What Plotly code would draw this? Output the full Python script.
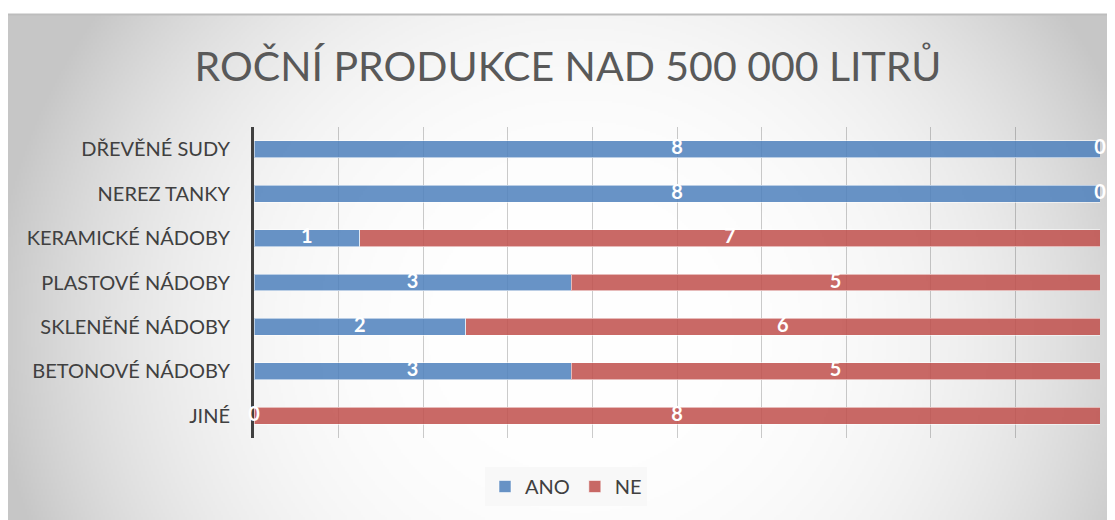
import base64
import struct
import zlib

import numpy as np
import plotly.graph_objects as go

# ---------------- data ----------------
categories = ["DŘEVĚNÉ SUDY", "NEREZ TANKY", "KERAMICKÉ NÁDOBY", "PLASTOVÉ NÁDOBY",
              "SKLENĚNÉ NÁDOBY", "BETONOVÉ NÁDOBY", "JINÉ"]
ano = [8, 8, 1, 3, 2, 3, 0]
ne = [0, 0, 7, 5, 6, 5, 8]
series_names = ["ANO", "NE"]
title_text = "ROČNÍ PRODUKCE NAD 500 000 LITRŮ"

# ---------------- layout geometry (page has an 8px body margin) ----------------
OFF = 8
W, H = 1115 - OFF, 520 - OFF
ML, MR, MT, MB = 254 - OFF, 15, 127 - OFF, 82
PW = W - ML - MR
PH = H - MT - MB


def px_to_paper_x(px):
    return (px - OFF - ML) / PW


def px_to_paper_y(py):
    return (H - MB - (py - OFF)) / PH


# ---------------- radial gradient background (PNG data URI) ----------------
def gradient_png(w, h):
    scale = 2.0
    xs = (np.arange(w) + 0.5) * scale + 8
    ys = (np.arange(h) + 0.5) * scale + 14
    X, Y = np.meshgrid(xs, ys)
    cx, cy, rx, ry = 580.0, 330.0, 590.0, 560.0
    d = np.sqrt(((X - cx) / rx) ** 2 + ((Y - cy) / ry) ** 2)
    d = np.clip(d, 0, 1)
    v = 255 - 57 * d ** 3
    img = np.clip(v, 0, 255).astype(np.uint8)
    raw = b"".join(b"\x00" + img[r].tobytes() for r in range(h))

    def chunk(tag, data):
        c = struct.pack(">I", len(data)) + tag + data
        return c + struct.pack(">I", zlib.crc32(tag + data) & 0xFFFFFFFF)

    png = b"\x89PNG\r\n\x1a\n"
    png += chunk(b"IHDR", struct.pack(">IIBBBBB", w, h, 8, 0, 0, 0, 0))
    png += chunk(b"IDAT", zlib.compress(raw, 9))
    png += chunk(b"IEND", b"")
    return "data:image/png;base64," + base64.b64encode(png).decode()


bg_src = gradient_png((1115 - 8) // 2, (520 - 14) // 2)

# ---------------- figure ----------------
blue = "rgba(79,129,189,0.86)"
red = "rgba(192,80,77,0.86)"

fig = go.Figure()
fig.add_trace(go.Bar(
    y=categories, x=ano, name=series_names[0], orientation="h",
    marker=dict(color=blue, line=dict(color="rgba(255,255,255,0.55)", width=1)),
    hoverinfo="skip",
))
fig.add_trace(go.Bar(
    y=categories, x=ne, name=series_names[1], orientation="h",
    marker=dict(color=red, line=dict(color="rgba(255,255,255,0.55)", width=1)),
    hoverinfo="skip",
))

# labels centred in each segment (percent scale)
totals = [a + n for a, n in zip(ano, ne)]
ano_pos = [a / t * 100 / 2 for a, t in zip(ano, totals)]
ne_pos = [(a + n / 2) / t * 100 for a, n, t in zip(ano, ne, totals)]
label_font = dict(family="Lato", size=20, color="white", weight="bold")
fig.add_trace(go.Scatter(
    x=ano_pos, y=categories, mode="text", text=[str(v) for v in ano],
    textfont=label_font, textposition="middle center", showlegend=False,
    cliponaxis=False, hoverinfo="skip",
))
fig.add_trace(go.Scatter(
    x=ne_pos, y=categories, mode="text", text=[str(v) for v in ne],
    textfont=label_font, textposition="middle center", showlegend=False,
    cliponaxis=False, hoverinfo="skip",
))

fig.update_layout(
    width=W, height=H,
    margin=dict(l=ML, r=MR, t=MT, b=MB, pad=0),
    barmode="stack", barnorm="percent", bargap=0.62,
    paper_bgcolor="white", plot_bgcolor="rgba(0,0,0,0)",
    font=dict(family="Lato", color="#404040"),
    title=dict(
        text=title_text, x=(568 - OFF) / W, xref="container", xanchor="center",
        y=1 - (67 - OFF) / H, yref="container", yanchor="middle",
        font=dict(family="Lato", size=41, color="#595959", weight=400),
    ),
    xaxis=dict(
        range=[0, 100], dtick=10, showticklabels=False, showgrid=True,
        gridcolor="rgba(0,0,0,0.2)", gridwidth=1, zeroline=False,
        showline=False, ticks="", fixedrange=True,
    ),
    yaxis=dict(
        categoryorder="array", categoryarray=categories, autorange="reversed",
        showline=True, linecolor="#404040", linewidth=3, showgrid=False,
        layer="below traces",
        ticks="", ticklabelstandoff=17, tickfont=dict(size=20, color="#404040"),
        zeroline=False, fixedrange=True,
    ),
    legend=dict(
        orientation="h", x=px_to_paper_x(566), xanchor="center",
        y=px_to_paper_y(467), yanchor="top",
        bgcolor="#f8f8f8", font=dict(size=20, color="#404040"),
        traceorder="normal", itemwidth=30,
    ),
    images=[dict(
        source=bg_src, xref="paper", yref="paper",
        x=px_to_paper_x(8), y=px_to_paper_y(14),
        sizex=(1115 - 8) / PW, sizey=(520 - 14) / PH,
        xanchor="left", yanchor="top", sizing="stretch", layer="below",
    )],
    shapes=[dict(
        type="line", xref="paper", yref="paper",
        x0=px_to_paper_x(8), x1=px_to_paper_x(1115),
        y0=px_to_paper_y(14.5), y1=px_to_paper_y(14.5),
        line=dict(color="#bdbdbd", width=2),
    )],
    showlegend=True,
)

fig.write_html("out.html")
